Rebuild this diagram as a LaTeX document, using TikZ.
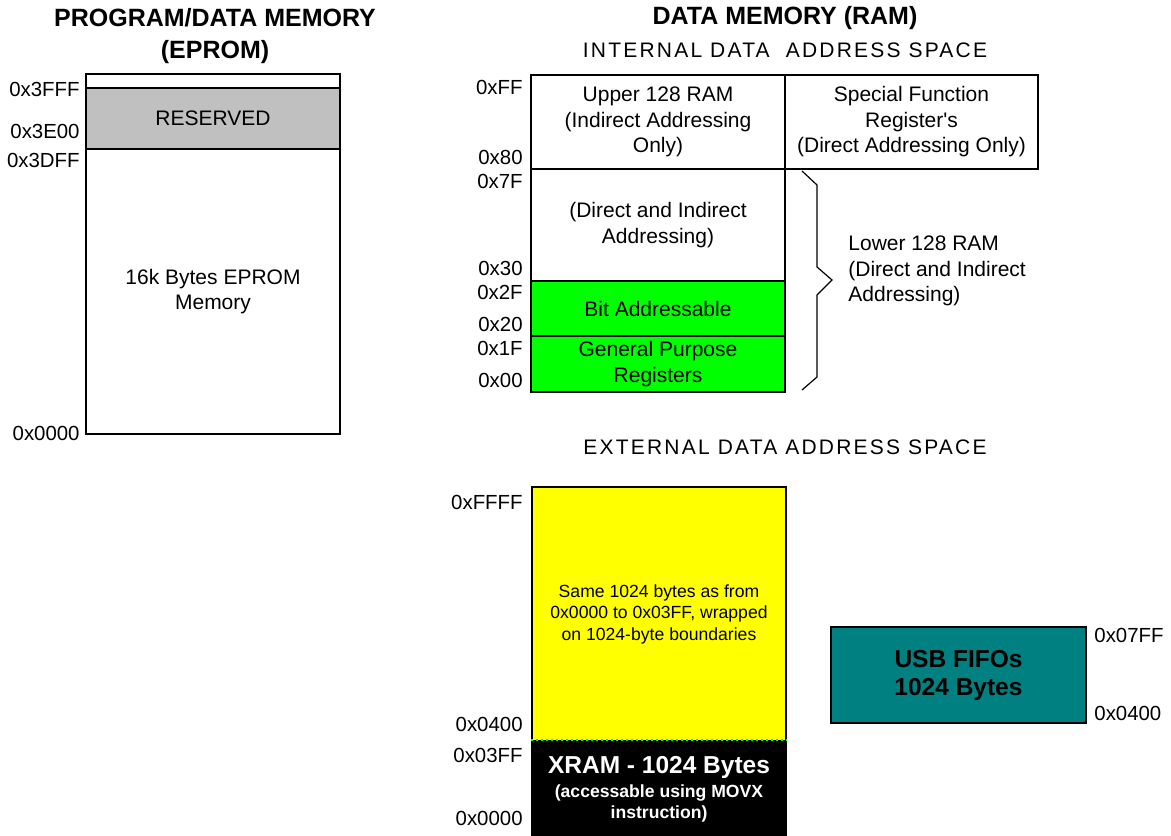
\documentclass[tikz,border=0pt]{standalone}
\usepackage{fontspec}
\setmainfont{Liberation Sans}
\usepackage{xcolor}
\usetikzlibrary{positioning}
\definecolor{resgray}{RGB}{192,192,192}
\definecolor{bitgreen}{RGB}{0,255,0}
\definecolor{wrapyellow}{RGB}{255,255,0}
\definecolor{usbteal}{RGB}{0,128,128}
\newcommand{\memfont}{\fontsize{10.5}{12.75}\selectfont}
\newcommand{\addrfont}{\fontsize{10.2}{12}\selectfont}
\newcommand{\headfont}{\fontsize{12.5}{16}\selectfont\bfseries}
\newcommand{\spacedfont}{\fontsize{10.5}{12.75}\selectfont\addfontfeature{LetterSpace=10.5}}
\newcommand{\wrapfont}{\fontsize{8.8}{10.75}\selectfont}
\newcommand{\bigbold}{\fontsize{12.25}{14}\selectfont\bfseries}
\newcommand{\notefont}{\fontsize{8.8}{10.5}\selectfont\bfseries}
\tikzset{
    membox/.style={draw, line width=1.3pt, inner sep=0pt, align=center, font=\memfont},
    addrleft/.style={anchor=east, inner sep=0pt, font=\addrfont},
    addrright/.style={anchor=west, inner sep=0pt, font=\addrfont},
    headtext/.style={align=center, inner sep=0pt, font=\headfont},
    spacetext/.style={inner sep=0pt, font=\spacedfont},
    bracepath/.style={line width=0.6pt}
}
\begin{document}
\begin{tikzpicture}[x=0.5pt, y=-0.5pt]
    \useasboundingbox (0,0) rectangle (1171,835);
    % program / data memory
    \node[headtext] (progtitle) at (215,36) {PROGRAM/DATA MEMORY\\(EPROM)};
    \node[membox, fill=white, minimum width=127pt, minimum height=7pt] (topstrip) at (213,81) {};
    \node[membox, fill=resgray, minimum width=127pt, minimum height=30.5pt] (reserved) at (213,118.5) {RESERVED};
    \node[membox, fill=white, minimum width=127pt, minimum height=142.5pt] (eprom) at (213,291.5) {16k Bytes EPROM\\Memory};
    \node[addrleft] (a3fff) at (80,89) {0x3FFF};
    \node[addrleft] (a3e00) at (80,131) {0x3E00};
    \node[addrleft] (a3dff) at (80,160) {0x3DFF};
    \node[addrleft] (a0000) at (80,433) {0x0000};

    % internal data memory
    \node[headtext] (ramtitle) at (785,18) {DATA MEMORY (RAM)};
    \node[spacetext] (inttitle) at (785,50) {INTERNAL DATA\ \ ADDRESS SPACE};
    \node[membox, fill=white, minimum width=127pt, minimum height=47pt] (upper) at (658,122) {Upper 128 RAM\\(Indirect Addressing\\Only)};
    \node[membox, fill=white, minimum width=126.5pt, minimum height=47pt] (sfr) at (911.5,122) {Special Function\\Register\textquotesingle s\\(Direct Addressing Only)};
    \node[membox, fill=white, minimum width=127pt, minimum height=56pt] (lowram) at (658,225) {(Direct and Indirect\\Addressing)};
    \node[membox, fill=bitgreen, minimum width=127pt, minimum height=27.5pt] (bitaddr) at (658,308.5) {Bit Addressable};
    \node[membox, fill=bitgreen, minimum width=127pt, minimum height=28pt] (gpreg) at (658,364) {General Purpose\\Registers};
    \node[addrleft] (aff) at (523,87) {0xFF};
    \node[addrleft] (a80) at (523,157) {0x80};
    \node[addrleft] (a7f) at (523,181) {0x7F};
    \node[addrleft] (a30) at (523,268) {0x30};
    \node[addrleft] (a2f) at (523,292) {0x2F};
    \node[addrleft] (a20) at (523,324) {0x20};
    \node[addrleft] (a1f) at (523,348) {0x1F};
    \node[addrleft] (a00) at (523,380) {0x00};

    % brace for lower 128
    \coordinate (bracetop) at (802,171);
    \coordinate (bracetip) at (832,280);
    \coordinate (bracebot) at (802,390);
    \draw[bracepath] (bracetop) -- (817,185) -- (817,267) -- (bracetip) -- (817,295) -- (817,377) -- (bracebot);
    \node[anchor=west, align=left, inner sep=0pt, font=\memfont] (lowlbl) at (848,271) {Lower 128 RAM\\(Direct and Indirect\\Addressing)};

    % external data memory
    \node[spacetext] (exttitle) at (785,447) {EXTERNAL DATA ADDRESS SPACE};
    \node[membox, fill=wrapyellow, minimum width=127pt, minimum height=127pt, font=\wrapfont] (wrap) at (659,614) {Same 1024 bytes as from\\0x0000 to 0x03FF, wrapped\\on 1024-byte boundaries};
    \node[membox, fill=black, minimum width=127pt, minimum height=48pt] (xram) at (659,789) {};
    \draw[bitgreen, line width=1.2pt, dash pattern=on 1.2pt off 1.3pt] (xram.north west) -- (xram.north east);
    \node[text=white, inner sep=0pt, font=\bigbold] (xramtxt) at (659,767) {XRAM - 1024 Bytes};
    \node[text=white, align=center, inner sep=0pt, font=\notefont, below=3pt of xramtxt] (xramnote) {(accessable using MOVX\\instruction)};
    \node[addrleft] (affff) at (523,502) {0xFFFF};
    \node[addrleft] (a0400) at (523,724) {0x0400};
    \node[addrleft] (a03ff) at (523,755) {0x03FF};
    \node[addrleft] (ax0000) at (523,818) {0x0000};

    % usb fifos
    \node[membox, fill=usbteal, minimum width=127.5pt, minimum height=48pt, font=\bigbold] (usb) at (958.5,675) {USB FIFOs\\1024 Bytes};
    \node[addrright] (u07ff) at (1094,635) {0x07FF};
    \node[addrright] (u0400) at (1094,713) {0x0400};
\end{tikzpicture}
\end{document}
